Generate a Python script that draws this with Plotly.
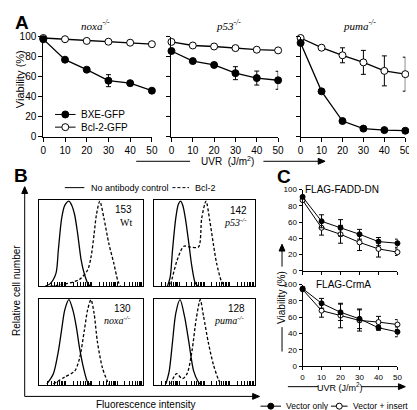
import plotly.graph_objects as go

W, H = 417, 410

# ---------------- Panel A data ----------------
uvr = [0, 10, 20, 30, 40, 50]
noxa_bxe = [97.5, 77, 67, 56, 53.5, 46]
noxa_bxe_err = [1, 1, 1, 6, 2, 2]
noxa_bcl2 = [98.7, 97.5, 95.8, 95, 94, 92.5]
noxa_bcl2_err = [0.8, 0.8, 0.8, 0.8, 0.8, 0.8]
p53_bxe = [85.7, 75.6, 71.7, 63.5, 58.6, 56.4]
p53_bxe_err = [2, 1.5, 2, 6.5, 7, 9]
p53_bcl2 = [94.8, 91.2, 90.2, 88.6, 87, 86.3]
p53_bcl2_err = [1, 1, 1, 1, 1, 1]
puma_bxe = [93.8, 45.3, 15.6, 8, 6.5, 5.9]
puma_bxe_err = [1, 1, 2, 1, 1, 1]
puma_bcl2 = [98.7, 89, 81.4, 74.3, 65.8, 62.5]
puma_bcl2_err = [1, 2, 7.5, 12, 15, 17]

# ---------------- Panel B data (log10 fluorescence, relative cell number) ----------------
wt_noab_x = [0.23, 0.42, 0.64, 0.73, 0.86, 0.98, 1.14, 1.25, 1.36, 1.48, 1.61, 1.74, 1.89, 2.00]
wt_noab_y = [0, 0.03, 0.15, 0.42, 0.80, 0.95, 1.0, 0.95, 0.84, 0.61, 0.31, 0.14, 0.02, 0]
wt_bcl2_x = [0.42, 0.91, 1.55, 1.86, 1.99, 2.11, 2.20, 2.33, 2.49, 2.68, 2.87, 3.03, 3.13]
wt_bcl2_y = [0, 0.02, 0.08, 0.19, 0.34, 0.61, 0.84, 1.0, 0.80, 0.50, 0.27, 0.06, 0]

p53_noab_x = [0.54, 0.65, 0.74, 0.87, 0.97, 1.06, 1.15, 1.25, 1.39, 1.51, 1.64, 1.75]
p53_noab_y = [0, 0.11, 0.42, 0.80, 0.96, 1.0, 0.95, 0.80, 0.50, 0.23, 0.04, 0]
p53_bcl2_x = [0.67, 0.93, 1.19, 1.45, 1.77, 1.90, 2.07, 2.22, 2.36, 2.49, 2.68, 2.81]
p53_bcl2_y = [0.02, 0.31, 0.47, 0.46, 0.46, 0.80, 1.0, 0.77, 0.50, 0.27, 0.06, 0]

noxa_noab_x = [0.29, 0.54, 0.73, 0.86, 0.98, 1.14, 1.29, 1.42, 1.55, 1.70, 1.86, 1.96]
noxa_noab_y = [0.01, 0.13, 0.39, 0.65, 0.88, 1.0, 0.88, 0.69, 0.43, 0.20, 0.03, 0]
noxa_bcl2_x = [0.54, 0.98, 1.36, 1.55, 1.74, 1.86, 1.99, 2.11, 2.24, 2.43, 2.62, 2.68]
noxa_bcl2_y = [0.01, 0.09, 0.16, 0.31, 0.65, 0.88, 1.0, 0.84, 0.50, 0.20, 0.04, 0]

puma_noab_x = [0.48, 0.61, 0.74, 0.87, 1.04, 1.22, 1.39, 1.58, 1.77, 1.86]
puma_noab_y = [0.01, 0.16, 0.50, 0.84, 1.0, 0.80, 0.50, 0.16, 0.03, 0]
puma_bcl2_x = [0.67, 0.90, 1.13, 1.32, 1.51, 1.68, 1.84, 1.97, 2.16, 2.36, 2.55, 2.68]
puma_bcl2_y = [0.01, 0.13, 0.07, 0.13, 0.39, 0.77, 1.0, 0.81, 0.50, 0.24, 0.07, 0]

mfi_labels = ["153", "142", "130", "128"]
genotype_labels = ["Wt", "<i>p53<sup>-/-</sup></i>", "<i>noxa<sup>-/-</sup></i>", "<i>puma<sup>-/-</sup></i>"]

# ---------------- Panel C data ----------------
fadd_vec = [91, 61, 53, 45, 36, 34]
fadd_vec_err = [2, 8, 10, 6, 5, 5]
fadd_ins = [87, 53, 45, 35, 27, 23]
fadd_ins_err = [2, 9, 11, 10, 10, 4]
crma_vec = [95, 77, 66, 58, 47, 42]
crma_vec_err = [2, 6, 10, 12, 3, 6]
crma_ins = [94, 68, 62, 56, 54, 51]
crma_ins_err = [2, 8, 15, 13, 7, 6]

SANS = "Liberation Sans, Arial, sans-serif"
SERIF = "Liberation Serif, Times New Roman, serif"


def fx(px):
    return px / W


def fy(py):
    return 1 - py / H


fig = go.Figure()


def add_series(xa, ya, y, err, filled, size, lw=1.3):
    fig.add_trace(go.Scatter(
        x=uvr, y=y, xaxis=xa, yaxis=ya, mode="lines+markers",
        line=dict(color="black", width=lw),
        marker=dict(symbol="circle", size=size,
                    color="black" if filled else "white",
                    line=dict(color="black", width=1)),
        error_y=dict(type="data", array=err, color="black", thickness=1, width=2.5),
        cliponaxis=False, showlegend=False))


# Panel A
add_series("x", "y", noxa_bcl2, noxa_bcl2_err, False, 7)
add_series("x", "y", noxa_bxe, noxa_bxe_err, True, 7)
add_series("x2", "y2", p53_bcl2, p53_bcl2_err, False, 7)
add_series("x2", "y2", p53_bxe, p53_bxe_err, True, 7)
add_series("x3", "y3", puma_bcl2, puma_bcl2_err, False, 7)
add_series("x3", "y3", puma_bxe, puma_bxe_err, True, 7)

# Panel B
hists = [
    (wt_noab_x, wt_noab_y, wt_bcl2_x, wt_bcl2_y),
    (p53_noab_x, p53_noab_y, p53_bcl2_x, p53_bcl2_y),
    (noxa_noab_x, noxa_noab_y, noxa_bcl2_x, noxa_bcl2_y),
    (puma_noab_x, puma_noab_y, puma_bcl2_x, puma_bcl2_y),
]
for i, (sx, sy, dx, dy) in enumerate(hists):
    n = 4 + i
    fig.add_trace(go.Scatter(x=[10 ** v for v in sx], y=sy, xaxis=f"x{n}", yaxis=f"y{n}",
                             mode="lines", line=dict(color="black", width=1.3, shape="spline", smoothing=0.8),
                             showlegend=False))
    fig.add_trace(go.Scatter(x=[10 ** v for v in dx], y=dy, xaxis=f"x{n}", yaxis=f"y{n}",
                             mode="lines", line=dict(color="black", width=1.3, dash="3px,2px",
                                                     shape="spline", smoothing=0.8),
                             showlegend=False))

# Panel C
add_series("x8", "y8", fadd_ins, fadd_ins_err, False, 5, 1)
add_series("x8", "y8", fadd_vec, fadd_vec_err, True, 5, 1)
add_series("x9", "y9", crma_ins, crma_ins_err, False, 5, 1)
add_series("x9", "y9", crma_vec, crma_vec_err, True, 5, 1)

layout = dict(width=W, height=H, margin=dict(l=0, r=0, t=0, b=0),
              paper_bgcolor="white", plot_bgcolor="white", showlegend=False,
              font=dict(family=SANS, color="black"))


def lin_axes(n, xpx, ypx, yr, show_x_labels, show_y_labels, tfs, tlen):
    # xpx = (left px, right px); ypx = (bottom px, top px)
    sfx = "" if n == 1 else str(n)
    layout["xaxis" + sfx] = dict(domain=[fx(xpx[0]), fx(xpx[1])], range=[0, 50], anchor="y" + sfx,
                                 showline=True, linecolor="black", linewidth=1, ticks="outside",
                                 ticklen=tlen, tickcolor="black", tickvals=uvr,
                                 showticklabels=show_x_labels, tickfont=dict(size=tfs, family=SANS),
                                 showgrid=False, zeroline=False, fixedrange=True)
    layout["yaxis" + sfx] = dict(domain=[fy(ypx[0]), fy(ypx[1])], range=yr, anchor="x" + sfx,
                                 showline=True, linecolor="black", linewidth=1, ticks="outside",
                                 ticklen=tlen, tickcolor="black", tickvals=[0, 20, 40, 60, 80, 100],
                                 showticklabels=show_y_labels, tickfont=dict(size=tfs, family=SANS),
                                 showgrid=False, zeroline=False, fixedrange=True)


lin_axes(1, (33, 144), (126.7, 24.3), [0, 100], True, True, 10, 4)
lin_axes(2, (164, 273), (126.7, 24.3), [0, 100], True, False, 10, 4)
lin_axes(3, (296, 403), (126.7, 24.3), [0, 100], True, False, 10, 4)
lin_axes(8, (298, 395), (264.3, 181), [0, 100], False, True, 8, 3)
lin_axes(9, (298, 395), (362, 278.3), [0, 100], True, True, 8, 3)

log_ticks = [m * 10 ** k for k in range(4) for m in range(1, 10)] + [10 ** 4]
boxes = [((29, 135), (280, 192)), ((146, 249), (280, 192)),
         ((29, 135), (381, 293)), ((146, 249), (381, 293))]
for i, (bx, by) in enumerate(boxes):
    n = 4 + i
    layout[f"xaxis{n}"] = dict(domain=[fx(bx[0]), fx(bx[1])], type="log", range=[0, 4], anchor=f"y{n}",
                               showline=True, mirror=True, linecolor="black", linewidth=1,
                               ticks="inside", ticklen=4, tickcolor="black", tickvals=log_ticks,
                               showticklabels=False, showgrid=False, zeroline=False)
    layout[f"yaxis{n}"] = dict(domain=[fy(by[0]), fy(by[1])], range=[0, 1.01], anchor=f"x{n}",
                               showline=True, mirror=True, linecolor="black", linewidth=1,
                               ticks="", showticklabels=False, showgrid=False, zeroline=False)

annotations = []
shapes = []


def text(t, x, y, size=10, xanchor="center", family=SANS, angle=0):
    annotations.append(dict(text=t, x=fx(x), y=fy(y), xref="paper", yref="paper",
                            xanchor=xanchor, yanchor="middle", showarrow=False,
                            textangle=angle, font=dict(size=size, family=family, color="black")))


def seg(x0, y0, x1, y1, dash="solid"):
    shapes.append(dict(type="line", xref="paper", yref="paper", x0=fx(x0), x1=fx(x1),
                       y0=fy(y0), y1=fy(y1), line=dict(color="black", width=1, dash=dash)))


def hline(x0, x1, y, dash="solid"):
    seg(x0, y, x1, y, dash)


def vline(x, y0, y1):
    seg(x, y0, x, y1)


def head(x, y, direction, length=7, half=3):
    # filled triangular arrowhead with its tip at (x, y) in pixels
    if direction == "right":
        pts = [(x, y), (x - length, y - half), (x - length, y + half)]
    else:  # up
        pts = [(x, y), (x - half, y + length), (x + half, y + length)]
    path = "M " + " L ".join(f"{fx(px):.5f},{fy(py):.5f}" for px, py in pts) + " Z"
    shapes.append(dict(type="path", xref="paper", yref="paper", path=path,
                       fillcolor="black", line=dict(color="black", width=1)))


def dot(x, y, r, filled):
    shapes.append(dict(type="circle", xref="paper", yref="paper", xsizemode="pixel", ysizemode="pixel",
                       xanchor=fx(x), yanchor=fy(y), x0=-r, x1=r, y0=-r, y1=r,
                       fillcolor="black" if filled else "white", line=dict(color="black", width=1)))


# Panel letters
text("<b>A</b>", 2, 10, 19, xanchor="left")
text("<b>B</b>", 1, 167, 19, xanchor="left")
text("<b>C</b>", 270, 168, 19, xanchor="left")

# Panel A texts
text("Viability (%)", 10, 68, 11, angle=-90)
text("<i>noxa<sup>-/-</sup></i>", 86, 12, 11, family=SERIF)
text("<i>p53<sup>-/-</sup></i>", 222, 12, 11, family=SERIF)
text("<i>puma<sup>-/-</sup></i>", 356, 12, 11, family=SERIF)
text("UVR  (J/m<sup>2</sup>)", 221, 152, 10)
hline(128, 183, 152)
hline(258, 315, 152)
head(321, 152, "right")
# Panel A legend
hline(45, 66, 104)
dot(55.5, 104, 3.5, True)
text("BXE-GFP", 69, 104, 10, xanchor="left")
hline(45, 66, 117)
dot(55.5, 117, 3.5, False)
text("Bcl-2-GFP", 69, 117, 10, xanchor="left")

# Panel B texts
hline(55, 75, 179)
text("No antibody control", 80, 179, 9, xanchor="left")
hline(165, 182, 179, dash="3px,2px")
text("Bcl-2", 186, 179, 9, xanchor="left")
label_pos = [(126, 201, 215), (243, 202, 214), (125, 303, 315), (241, 303, 315)]
for (lx, y1, y2), m, g in zip(label_pos, mfi_labels, genotype_labels):
    text(m, lx, y1, 10, xanchor="right")
    text(g, lx, y2, 10, xanchor="right", family=SERIF)
vline(14, 393, 184)
head(14, 178, "up")
hline(14, 248, 393)
head(254, 393, "right")
text("Relative cell number", 5, 284, 10, angle=-90)
text("Fluorescence intensity", 138, 401, 10)

# Panel C texts
text("FLAG-FADD-DN", 338, 181, 10)
text("FLAG-CrmA", 340, 278, 10)
text("Viability (%)", 277, 292, 10, angle=-90)
vline(277, 260, 243)
head(277, 237, "up")
vline(277, 322, 347)
hline(283, 314, 383)
text("UVR (J/m<sup>2</sup>)", 336, 383, 9)
hline(358, 397, 383)
head(403, 383, "right")
# Panel C legend
hline(255, 276, 403)
dot(265.5, 403, 3, True)
text("Vector only", 279, 403, 8.5, xanchor="left")
hline(327, 344, 403)
dot(335.5, 403, 3, False)
text("Vector + insert", 347, 403, 8.5, xanchor="left")

layout["annotations"] = annotations
layout["shapes"] = shapes
fig.update_layout(**layout)
fig.write_html("out.html")
